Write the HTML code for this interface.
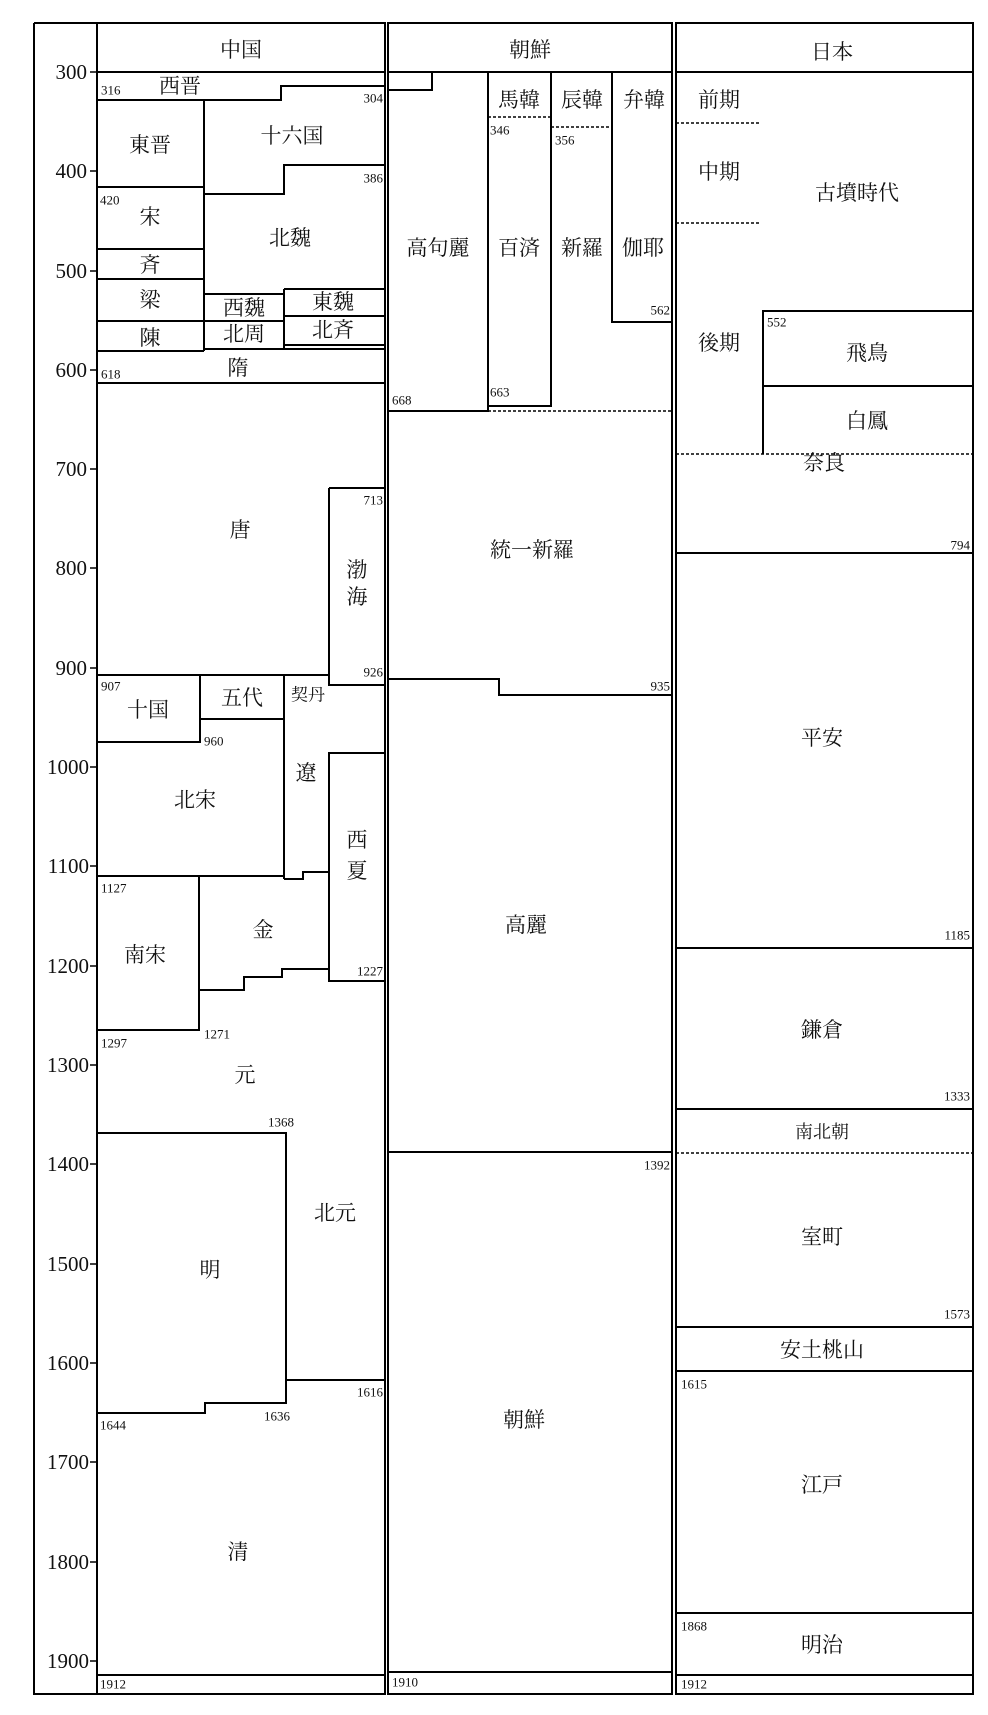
<!DOCTYPE html>
<html><head><meta charset="utf-8"><style>
html,body{margin:0;padding:0;background:#fff;}
svg{display:block;}
text{font-family:"Liberation Serif","Noto Serif CJK JP","Noto Serif CJK SC",serif;fill:#111;}
.b{font-size:21px;text-anchor:middle;dominant-baseline:central;}
.y{font-size:13px;dominant-baseline:central;}
.ax{font-size:21px;text-anchor:end;dominant-baseline:central;}
</style></head><body>
<svg width="988" height="1715" viewBox="0 0 988 1715" xmlns="http://www.w3.org/2000/svg">
<g fill="none" stroke="#000" stroke-width="2">
<path d="M34,23 V1694 H97 M34,23 H97"/>
<rect x="97" y="23" width="288" height="1671"/>
<rect x="388" y="23" width="284" height="1671"/>
<rect x="676" y="23" width="297" height="1671"/>
<path d="M97,72 H385 M388,72 H672 M676,72 H973"/>
<!-- China -->
<path d="M97,100 H281 V86 H385"/>
<path d="M204,100 V351"/>
<path d="M97,187 H204 M204,194 H284 V165 H385"/>
<path d="M97,249 H204 M97,279 H204 M97,321 H204 M97,351 H204"/>
<path d="M204,294 H284 M284,289 H385 M284,289 V349"/>
<path d="M204,321 H284 M284,316 H385 M284,345 H385 M204,349 H385"/>
<path d="M97,383 H385"/>
<path d="M97,675 H329 M329,488 H385 M329,488 V685 H385"/>
<path d="M200,675 V742 H97 M200,719 H284 M284,675 V879"/>
<path d="M385,753 H329 V981 H385"/>
<path d="M97,876 H284 M284,879 H303 V872 H329"/>
<path d="M199,876 V1030 H97"/>
<path d="M199,990 H244 V977 H282 V969 H329"/>
<path d="M97,1133 H286 V1403 H205 V1413 H97"/>
<path d="M286,1380 H385 M97,1675 H385"/>
<!-- Korea -->
<path d="M388,90 H432 V72"/>
<path d="M488,72 V411 H388"/>
<path d="M551,72 V406 H488"/>
<path d="M612,72 V322 H672"/>
<path d="M388,679 H499 V695 H672"/>
<path d="M388,1152 H672 M388,1672 H672"/>
<!-- Japan -->
<path d="M973,311 H763 V454 M763,386 H973"/>
<path d="M676,553 H973 M676,948 H973 M676,1109 H973 M676,1327 H973 M676,1371 H973 M676,1613 H973 M676,1675 H973"/>
</g>
<g fill="none" stroke="#000" stroke-width="1.6" stroke-dasharray="3,2">
<path d="M488,117 H551 M551,127 H612 M488,411 H672"/>
<path d="M676,123 H760 M676,223 H760 M676,454 H973 M676,1153 H973"/>
</g>
<!-- ticks -->
<g stroke="#000" stroke-width="1.5">
<path d="M90,72 H97 M90,171 H97 M90,271 H97 M90,370 H97 M90,469 H97 M90,568 H97 M90,668 H97 M90,767 H97 M90,866 H97 M90,966 H97 M90,1065 H97 M90,1164 H97 M90,1264 H97 M90,1363 H97 M90,1462 H97 M90,1562 H97 M90,1661 H97"/>
</g>
<g class="ax">
<text x="87" y="72">300</text><text x="87" y="171">400</text><text x="87" y="271">500</text><text x="87" y="370">600</text>
<text x="87" y="469">700</text><text x="87" y="568">800</text><text x="87" y="668">900</text><text x="89" y="767">1000</text>
<text x="89" y="866">1100</text><text x="89" y="966">1200</text><text x="89" y="1065">1300</text><text x="89" y="1164">1400</text>
<text x="89" y="1264">1500</text><text x="89" y="1363">1600</text><text x="89" y="1462">1700</text><text x="89" y="1562">1800</text>
<text x="89" y="1661">1900</text>
</g>
<g class="b">
<text x="241" y="50">中国</text><text x="530" y="50">朝鮮</text><text x="832" y="52">日本</text>
<text x="180" y="86">西晋</text><text x="150" y="145">東晋</text><text x="292" y="136">十六国</text>
<text x="150" y="217">宋</text><text x="150" y="265">斉</text><text x="150" y="300">梁</text><text x="150" y="338">陳</text>
<text x="290" y="238">北魏</text><text x="244" y="308">西魏</text><text x="333" y="302">東魏</text>
<text x="244" y="334">北周</text><text x="333" y="330">北斉</text><text x="238" y="368">隋</text>
<text x="240" y="530">唐</text><text x="357" y="570">渤</text><text x="357" y="597">海</text>
<text x="148" y="710">十国</text><text x="242" y="698">五代</text>
<text x="308" y="695" style="font-size:17px">契丹</text><text x="306" y="773">遼</text>
<text x="195" y="800">北宋</text><text x="357" y="840">西</text><text x="357" y="871">夏</text>
<text x="145" y="955">南宋</text><text x="263" y="930">金</text><text x="245" y="1075">元</text>
<text x="335" y="1213">北元</text><text x="210" y="1270">明</text><text x="238" y="1552">清</text>
<text x="438" y="248">高句麗</text><text x="519" y="100">馬韓</text><text x="582" y="100">辰韓</text><text x="644" y="100">弁韓</text>
<text x="519" y="248">百済</text><text x="582" y="248">新羅</text><text x="643" y="248">伽耶</text>
<text x="532" y="550">統一新羅</text><text x="526" y="925">高麗</text><text x="524" y="1420">朝鮮</text>
<text x="719" y="100">前期</text><text x="719" y="172">中期</text><text x="719" y="343">後期</text>
<text x="857" y="193">古墳時代</text><text x="867" y="353">飛鳥</text><text x="867" y="421">白鳳</text>
<text x="824" y="463">奈良</text><text x="822" y="738">平安</text><text x="822" y="1030">鎌倉</text>
<text x="822" y="1132" style="font-size:18px">南北朝</text><text x="822" y="1237">室町</text>
<text x="822" y="1350">安土桃山</text><text x="822" y="1485">江戸</text><text x="822" y="1645">明治</text>
</g>
<g class="y">
<text x="101" y="90">316</text><text x="383" y="98" text-anchor="end">304</text><text x="383" y="178" text-anchor="end">386</text>
<text x="100" y="200">420</text><text x="101" y="374">618</text>
<text x="383" y="500" text-anchor="end">713</text><text x="383" y="672" text-anchor="end">926</text>
<text x="101" y="686">907</text><text x="204" y="741">960</text>
<text x="101" y="888">1127</text><text x="383" y="971" text-anchor="end">1227</text>
<text x="101" y="1043">1297</text><text x="204" y="1034">1271</text><text x="268" y="1122">1368</text>
<text x="383" y="1392" text-anchor="end">1616</text><text x="100" y="1425">1644</text><text x="264" y="1416">1636</text>
<text x="100" y="1684">1912</text>
<text x="392" y="400">668</text><text x="490" y="130">346</text><text x="555" y="140">356</text>
<text x="670" y="310" text-anchor="end">562</text><text x="490" y="392">663</text>
<text x="670" y="686" text-anchor="end">935</text><text x="670" y="1165" text-anchor="end">1392</text>
<text x="392" y="1682">1910</text>
<text x="767" y="322">552</text><text x="970" y="545" text-anchor="end">794</text>
<text x="970" y="935" text-anchor="end">1185</text><text x="970" y="1096" text-anchor="end">1333</text>
<text x="970" y="1314" text-anchor="end">1573</text><text x="681" y="1384">1615</text>
<text x="681" y="1626">1868</text><text x="681" y="1684">1912</text>
</g>
</svg>
</body></html>
